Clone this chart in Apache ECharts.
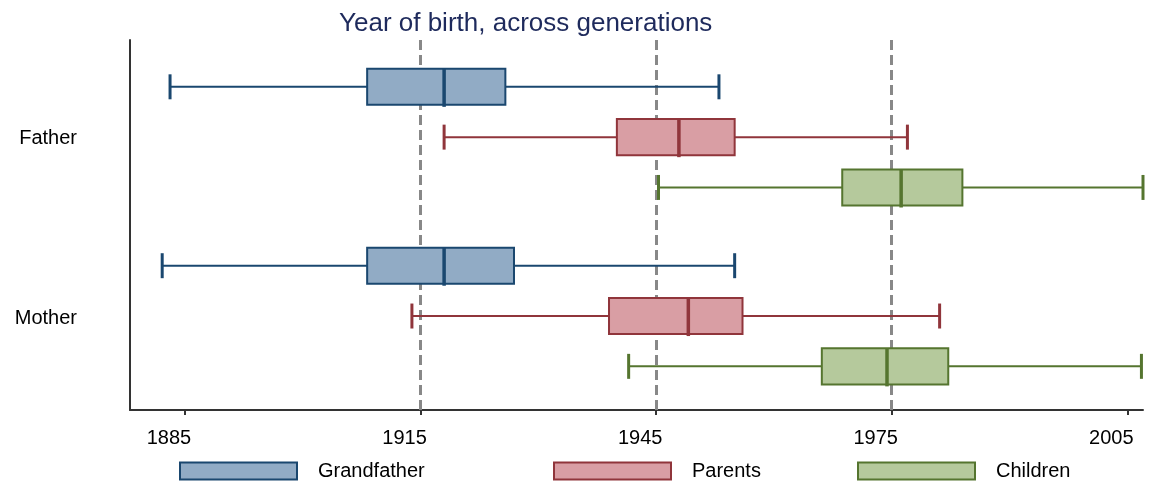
<!DOCTYPE html>
<html>
<head>
<meta charset="utf-8">
<title>Year of birth, across generations</title>
<script src="https://cdn.jsdelivr.net/npm/echarts@6.0.0/dist/echarts.min.js"></script>
<style>
	html,body{margin:0;padding:0;background:#fff;}
	#chart{width:1159px;height:485px;}
</style>
</head>
<body>
<div id="chart"></div>
<script>
// 数据
var groups = ['Father', 'Mother'];
var generations = ['Grandfather', 'Parents', 'Children'];
// [min, Q1, median, Q3, max] for Father, Mother
var grandfather = [[1883.1, 1908.2, 1918.0, 1925.8, 1953.0], [1882.1, 1908.2, 1918.0, 1926.9, 1955.0]];
var parents = [[1918.0, 1940.0, 1947.9, 1955.0, 1977.0], [1913.9, 1939.0, 1949.1, 1956.0, 1981.1]];
var children = [[1945.3, 1968.7, 1976.2, 1984.0, 2007.0], [1941.5, 1966.1, 1974.4, 1982.2, 2006.8]];
var refYears = [1915, 1945, 1975];
var tickYears = [1885, 1915, 1945, 1975, 2005];

var font = "'Liberation Sans', Arial, sans-serif";
var strokes = ['#1a476f', '#90353b', '#55752f'];
var fills = ['#91abc5', '#d99ea4', '#b5c99c'];
var legendLeft = [174, 548, 852];
// 每组在类目带内的微调
var groupShift = [0.025, -0.008];

// 每个箱线图的绘制
function boxRender(row){
	return function(params, api){
		var band = api.size([0, 1])[1];
		var cat = api.value(5);
		var yc = api.coord([api.value(0), cat])[1] + ((row - 1) * 0.272 + groupShift[cat]) * band;
		var h = band * 0.195, cap = band * 0.135;
		var xs = [];
		for(var i = 0; i < 5; i++){
			xs.push(api.coord([api.value(i), cat])[0]);
		}
		var c = strokes[row];
		return {
			type: 'group',
			children: [
				{type: 'line', shape: {x1: xs[0], y1: yc, x2: xs[1], y2: yc}, style: {stroke: c, lineWidth: 2}},
				{type: 'line', shape: {x1: xs[3], y1: yc, x2: xs[4], y2: yc}, style: {stroke: c, lineWidth: 2}},
				{type: 'line', shape: {x1: xs[0], y1: yc - cap / 2, x2: xs[0], y2: yc + cap / 2}, style: {stroke: c, lineWidth: 3}},
				{type: 'line', shape: {x1: xs[4], y1: yc - cap / 2, x2: xs[4], y2: yc + cap / 2}, style: {stroke: c, lineWidth: 3}},
				{type: 'rect', shape: {x: xs[1], y: yc - h / 2, width: xs[3] - xs[1], height: h}, style: {fill: fills[row], stroke: c, lineWidth: 2}},
				{type: 'line', shape: {x1: xs[2], y1: yc - h / 2, x2: xs[2], y2: yc + h / 2 + 2}, style: {stroke: c, lineWidth: 3.5}}
			]
		};
	};
}

function rows(list){
	var out = [];
	for(var i = 0; i < list.length; i++){
		out.push(list[i].concat([i]));
	}
	return out;
}

var myChart = echarts.init(document.getElementById('chart'));
var allData = [grandfather, parents, children];
var series = [{
	type: 'line',
	data: [],
	silent: true,
	markLine: {
		z: 1,
		silent: true,
		symbol: 'none',
		animation: false,
		label: {show: false},
		lineStyle: {color: '#888888', width: 3, type: [10, 5]},
		data: refYears.map(function(y){ return {xAxis: y}; })
	}
}];
for(var g = 0; g < generations.length; g++){
	series.push({
		name: generations[g],
		type: 'custom',
		z: 3,
		clip: false,
		itemStyle: {color: fills[g], borderColor: strokes[g], borderWidth: 2},
		encode: {x: [0, 1, 2, 3, 4], y: 5},
		renderItem: boxRender(g),
		data: rows(allData[g])
	});
}

var option = {
	animation: false,
	title: {
		text: 'Year of birth, across generations',
		left: 334,
		top: 6,
		textStyle: {fontFamily: font, fontSize: 26, fontWeight: 'normal', color: '#1e2a5c'}
	},
	legend: generations.map(function(name, i){
		return {
			data: [{name: name, itemStyle: {color: fills[i], borderColor: strokes[i], borderWidth: 2}}],
			left: legendLeft[i],
			top: 456,
			icon: 'rect',
			itemWidth: 117,
			itemHeight: 17,
			selectedMode: false,
			textStyle: {fontFamily: font, fontSize: 20, color: '#000', padding: [0, 0, 0, 16]}
		};
	}),
	grid: {left: 130, right: 16, top: 40, bottom: 75},
	xAxis: {
		type: 'value',
		min: 1878,
		max: 2007,
		splitLine: {show: false},
		axisLine: {show: true, lineStyle: {color: '#333', width: 2}},
		axisTick: {show: true, length: 5, lineStyle: {color: '#333', width: 2}, customValues: tickYears},
		axisLabel: {
			customValues: tickYears,
			margin: 18,
			fontFamily: font,
			fontSize: 20,
			color: '#000',
			padding: [0, 32, 0, 0],
			formatter: function(v){ return String(v); }
		}
	},
	yAxis: {
		type: 'category',
		data: groups,
		inverse: true,
		axisLine: {show: true, lineStyle: {color: '#333', width: 2}},
		axisTick: {show: false},
		splitLine: {show: false},
		axisLabel: {
			margin: 53,
			fontFamily: font,
			fontSize: 20,
			color: '#000',
			formatter: function(v){ return v == 'Father' ? '{f|' + v + '}' : '{m|' + v + '}'; },
			rich: {
				f: {fontFamily: font, fontSize: 20, color: '#000', padding: [12, 0, 0, 0]},
				m: {fontFamily: font, fontSize: 20, color: '#000', padding: [2, 0, 0, 0]}
			}
		}
	},
	series: series
};

// 使用刚指定的配置项和数据显示图表。
myChart.setOption(option);
</script>
</body>
</html>
